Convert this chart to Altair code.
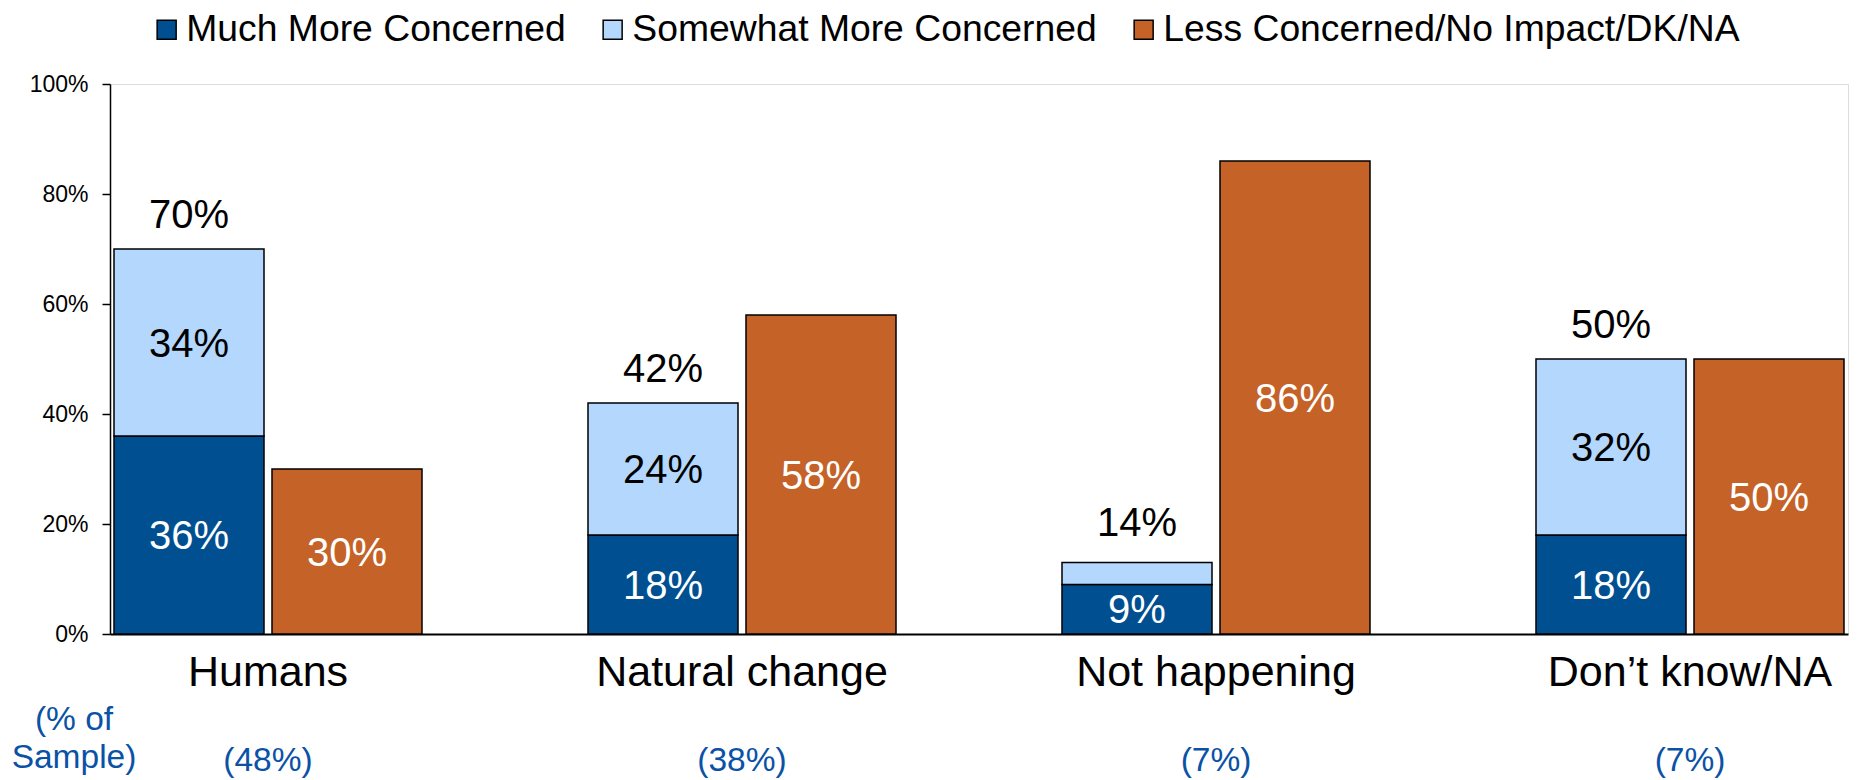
import altair as alt
import pandas as pd

# ---- data ----
categories = ["Humans", "Natural change", "Not happening", "Don\u2019t know/NA"]
series = ["Much More Concerned", "Somewhat More Concerned", "Less Concerned/No Impact/DK/NA"]
much = [36, 18, 9, 18]
somewhat = [34, 24, 4, 32]
less = [30, 58, 86, 50]
totals = [70, 42, 14, 50]
sample_share = [48, 38, 7, 7]
sample_caption = ["(% of", "Sample)"]
y_ticks = [0, 20, 40, 60, 80, 100]

colors = ["#005091", "#B3D7FD", "#C46228"]
caption_color = "#0A52A6"
FONT = "Liberation Sans, Arial, Helvetica, sans-serif"

rows = []
for i, c in enumerate(categories):
    rows.append(dict(cat=c, grp="A", series=series[0], v=much[i], lo=0, hi=much[i]))
    rows.append(dict(cat=c, grp="A", series=series[1], v=somewhat[i], lo=much[i], hi=much[i] + somewhat[i]))
    rows.append(dict(cat=c, grp="B", series=series[2], v=less[i], lo=0, hi=less[i]))
bars_df = pd.DataFrame(rows)
bars_df["mid"] = (bars_df["lo"] + bars_df["hi"]) / 2
bars_df["label"] = bars_df["v"].astype(str) + "%"

tot_df = pd.DataFrame({"cat": categories, "grp": "A", "total": totals,
                       "label": [f"{t}%" for t in totals]})
samp_df = pd.DataFrame({"cat": categories, "label": [f"({s}%)" for s in sample_share]})
cap_df = pd.DataFrame({"label": ["\n".join(sample_caption)]})

W, H = 1738, 550
x_enc = alt.X("cat:N", sort=categories,
              scale=alt.Scale(paddingInner=0.35021, paddingOuter=0.008439),
              axis=alt.Axis(title=None, labelAngle=0, ticks=False, tickSize=0,
                            labelPadding=17, labelFontSize=43, labelFont=FONT,
                            labelColor="black", domainColor="black", domainWidth=2,
                            labelLimit=1000))
xo_enc = alt.XOffset("grp:N", scale=alt.Scale(paddingInner=0.0506, paddingOuter=0))
y_scale = alt.Scale(domain=[0, 100], nice=False)

base = alt.Chart(bars_df)

bars = base.mark_bar(stroke="black", strokeWidth=1.5).encode(
    x=x_enc,
    xOffset=xo_enc,
    y=alt.Y("lo:Q", scale=y_scale,
            axis=alt.Axis(title=None, values=y_ticks, labelExpr="datum.value + '%'",
                          grid=False, tickSize=8, tickWidth=1.5, tickColor="black",
                          domainColor="black", domainWidth=1.5, labelPadding=14,
                          labelFontSize=23, labelFont=FONT, labelColor="black")),
    y2="hi:Q",
    color=alt.Color("series:N", scale=alt.Scale(domain=series, range=colors),
                    legend=alt.Legend(orient="none", legendX=38, legendY=-73,
                                      direction="horizontal", title=None,
                                      symbolType="square", symbolSize=361,
                                      symbolStrokeColor="black", symbolStrokeWidth=1.5,
                                      symbolOpacity=1, labelFontSize=37.3, labelFont=FONT,
                                      labelColor="black", labelOffset=1,
                                      columnPadding=28, padding=0, labelLimit=1000)),
)

white_lbl = base.transform_filter(
    alt.FieldOneOfPredicate(field="series", oneOf=[series[0], series[2]])
).mark_text(color="white", fontSize=40, font=FONT, baseline="middle", dy=2).encode(
    x=alt.X("cat:N", sort=categories), xOffset="grp:N", y="mid:Q", text="label:N")

black_lbl = base.transform_filter(
    (alt.datum.series == series[1]) & (alt.datum.v >= 8)
).mark_text(color="black", fontSize=40, font=FONT, baseline="middle", dy=2).encode(
    x=alt.X("cat:N", sort=categories), xOffset="grp:N", y="mid:Q", text="label:N")

tot_lbl = alt.Chart(tot_df).mark_text(color="black", fontSize=40, font=FONT,
                                      baseline="alphabetic", dy=-21).encode(
    x=alt.X("cat:N", sort=categories), xOffset="grp:N", y="total:Q", text="label:N")

samp_lbl = alt.Chart(samp_df).mark_text(color=caption_color, fontSize=33.5, font=FONT,
                                        baseline="alphabetic").encode(
    x=alt.X("cat:N", sort=categories), y=alt.value(687), text="label:N")

cap_lbl = alt.Chart(cap_df).mark_text(color=caption_color, fontSize=33.5, font=FONT,
                                      baseline="alphabetic", lineBreak="\n",
                                      lineHeight=38).encode(
    x=alt.value(-36), y=alt.value(646), text="label:N")

chart = alt.layer(bars, white_lbl, black_lbl, tot_lbl, samp_lbl, cap_lbl).properties(
    width=W, height=H,
    padding={"left": 102, "top": 76, "right": 2, "bottom": 160},
    autosize=alt.AutoSizeParams(type="none"),
).configure_view(stroke=None).configure(font=FONT)

chart.save("out.html", embed_options={"renderer": "svg", "actions": False})
